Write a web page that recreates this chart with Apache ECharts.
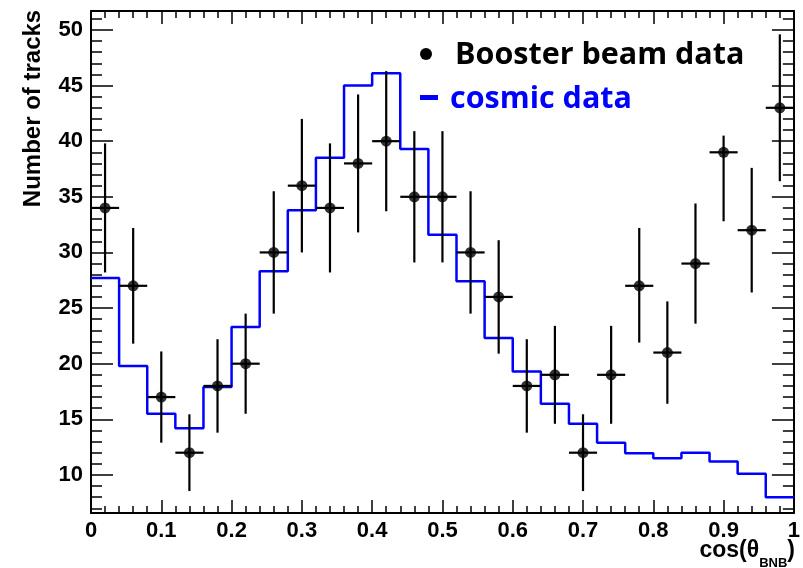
<!DOCTYPE html>
<html><head><meta charset="utf-8">
<script src="https://cdn.jsdelivr.net/npm/echarts@6/dist/echarts.min.js"></script>
<style>html,body{margin:0;padding:0;background:#fff}#c{width:803px;height:568px}</style>
</head><body><div id="c"></div>
<script>
// ---- data ----
const binCenters = [0.02,0.06,0.10,0.14,0.18,0.22,0.26,0.30,0.34,0.38,0.42,0.46,0.50,0.54,0.58,0.62,0.66,0.70,0.74,0.78,0.82,0.86,0.90,0.94,0.98];
const boosterCounts = [34,27,17,12,18,20,30,36,34,38,40,35,35,30,26,18,19,12,19,27,21,29,39,32,43];
const boosterErrLow = [28.2,21.8,12.9,8.55,13.8,15.5,24.5,30.0,28.2,31.8,33.7,29.1,29.1,24.5,20.9,13.8,14.6,8.55,14.6,21.9,16.4,23.6,32.8,26.4,36.4];
const boosterErrHigh = [39.8,32.2,21.1,15.45,22.2,24.5,35.5,42.0,39.8,44.2,46.3,40.9,40.9,35.5,31.1,22.2,23.4,15.45,23.4,32.2,25.6,34.4,40.5,37.6,49.6];
const binHalfWidth = 0.02;
const binEdges = [0,0.04,0.08,0.12,0.16,0.20,0.24,0.28,0.32,0.36,0.40,0.44,0.48,0.52,0.56,0.60,0.64,0.68,0.72,0.76,0.80,0.84,0.88,0.92,0.96,1.00];
const cosmicCounts = [27.7,19.8,15.5,14.2,17.9,23.3,28.3,33.8,38.5,45.0,46.1,39.3,31.6,27.4,22.3,19.3,16.4,14.6,12.9,11.95,11.5,12.0,11.2,10.1,8.0];
const yMajorTicks = [10,15,20,25,30,35,40,45,50];
const yMinorTicks = [7,8,9,10,11,12,13,14,15,16,17,18,19,20,21,22,23,24,25,26,27,28,29,30,31,32,33,34,35,36,37,38,39,40,41,42,43,44,45,46,47,48,49,50,51];
const yMin = 6.58, yMax = 51.7;
const xMin = 0, xMax = 1, xInterval = 0.1;

// ---- chart ----
const FONT = "'Liberation Sans', Arial, Helvetica, sans-serif";
const LEGFONT = "'Open Sans', 'Noto Sans', sans-serif";
const BLUE = '#0000ff';
const chart = echarts.init(document.getElementById('c'), null, {renderer: 'canvas'});

const cosmicData = binEdges.map((e, i) => [e, cosmicCounts[Math.min(i, cosmicCounts.length - 1)]]);
const pointData = binCenters.map((x, i) => [x, boosterCounts[i], boosterErrLow[i], boosterErrHigh[i]]);

function yAxisDef(position, ticks, len, showLabel, showLine) {
  return {
    type: 'value', position: position, min: yMin, max: yMax,
    axisLine: {show: showLine, lineStyle: {color: '#000', width: 2}},
    axisTick: {show: true, inside: true, length: len, customValues: ticks, lineStyle: {color: '#000', width: 1.5}},
    axisLabel: {show: showLabel, customValues: yMajorTicks, margin: 8, color: '#000', fontFamily: FONT, fontWeight: 'bold', fontSize: 22},
    splitLine: {show: false}
  };
}
function xAxisDef(position, showLabel) {
  return {
    type: 'value', position: position, min: xMin, max: xMax, interval: xInterval,
    axisLine: {show: true, onZero: false, lineStyle: {color: '#000', width: 2}},
    axisTick: {show: true, inside: true, length: 13, lineStyle: {color: '#000', width: 1.5}},
    minorTick: {show: true, splitNumber: 5, length: 7, lineStyle: {color: '#000', width: 1.5}},
    axisLabel: {show: showLabel, margin: 7, color: '#000', fontFamily: FONT, fontWeight: 'bold', fontSize: 22, showMinLabel: true, showMaxLabel: true},
    splitLine: {show: false}, minorSplitLine: {show: false}
  };
}

const option = {
  animation: false,
  backgroundColor: '#fff',
  grid: {left: 91, right: 8, top: 11, bottom: 55, containLabel: false},
  xAxis: [xAxisDef('bottom', true), xAxisDef('top', false)],
  yAxis: [
    yAxisDef('left', yMajorTicks, 22, true, true),
    yAxisDef('left', yMinorTicks, 11, false, false),
    yAxisDef('right', yMajorTicks, 22, false, true),
    yAxisDef('right', yMinorTicks, 11, false, false)
  ],
  series: [
    {
      name: 'cosmic data', type: 'line', step: 'end', xAxisIndex: 0, yAxisIndex: 0,
      data: cosmicData, symbol: 'none', lineStyle: {color: BLUE, width: 2.5}, z: 2
    },
    {
      name: 'Booster beam data errors', type: 'custom', xAxisIndex: 0, yAxisIndex: 0,
      data: pointData, encode: {x: 0, y: 1}, z: 3,
      renderItem: function (params, api) {
        const x = api.value(0), y = api.value(1), lo = api.value(2), hi = api.value(3);
        const pLo = api.coord([x, lo]), pHi = api.coord([x, hi]);
        const pL = api.coord([x - binHalfWidth, y]), pR = api.coord([x + binHalfWidth, y]);
        const st = {stroke: '#000', lineWidth: 2.2};
        return {type: 'group', children: [
          {type: 'line', shape: {x1: pLo[0], y1: pLo[1], x2: pHi[0], y2: pHi[1]}, style: st},
          {type: 'line', shape: {x1: pL[0], y1: pL[1], x2: pR[0], y2: pR[1]}, style: st}
        ]};
      }
    },
    {
      name: 'Booster beam data', type: 'scatter', xAxisIndex: 0, yAxisIndex: 0,
      data: pointData.map(d => [d[0], d[1]]), symbol: 'circle', symbolSize: 11,
      itemStyle: {color: '#000'}, z: 4
    }
  ],
  graphic: [
    {type: 'circle', shape: {cx: 426, cy: 54, r: 6}, style: {fill: '#000'}},
    {type: 'text', x: 455, y: 55.5, style: {text: 'Booster beam data', fill: '#000', font: 'bold 30.5px ' + LEGFONT, textAlign: 'left', textVerticalAlign: 'middle'}},
    {type: 'rect', shape: {x: 420, y: 95, width: 18, height: 5}, style: {fill: BLUE}},
    {type: 'text', x: 450, y: 99.5, style: {text: 'cosmic data', fill: BLUE, font: 'bold 30.5px ' + LEGFONT, textAlign: 'left', textVerticalAlign: 'middle'}},
    {type: 'text', x: 33, y: 108.5, rotation: Math.PI / 2, style: {text: 'Number of tracks', fill: '#000', font: 'bold 24px ' + FONT, textAlign: 'center', textVerticalAlign: 'middle'}},
    {type: 'text', x: 795, y: 539, style: {
      text: '{m|cos(θ}{s|BNB}{m|)}', textAlign: 'right', textVerticalAlign: 'top',
      rich: {
        m: {fontFamily: FONT, fontWeight: 'bold', fontSize: 23, lineHeight: 24, verticalAlign: 'top', fill: '#000'},
        s: {fontFamily: FONT, fontWeight: 'bold', fontSize: 13, lineHeight: 14, padding: [18, 0, 0, 0], verticalAlign: 'top', fill: '#000'}
      }
    }}
  ]
};
chart.setOption(option);
</script>
</body></html>
